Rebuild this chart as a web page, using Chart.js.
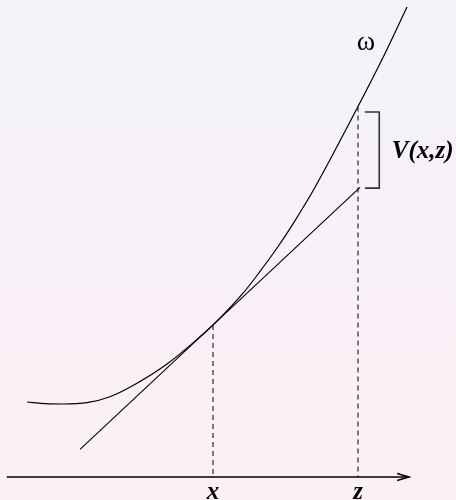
<!DOCTYPE html>
<html>
<head>
<meta charset="utf-8">
<script src="https://cdn.jsdelivr.net/npm/chart.js@4"></script>
<style>
  html, body { margin: 0; padding: 0; }
  #wrap { width: 456px; height: 500px; background: linear-gradient(to bottom, #f4f3fa 0%, #f8f1f8 50%, #fcf0f5 100%); }
  canvas { display: block; }
  .pre { font-family: "Liberation Serif"; position: absolute; left: -999px; }
</style>
</head>
<body>
<span class="pre" style="font-weight:bold;font-style:italic">V(x,z)</span>
<span class="pre">ω</span>
<div id="wrap"><canvas id="c" width="456" height="500"></canvas></div>
<script>
// ω curve samples
const curveX = [-0.131, 0.366, 0.862, 1.524, 2.159, 2.793, 3.731, 4.641, 5.0, 5.828, 6.297, 6.766, 7.207, 7.759, 9.0, 9.690, 10.352];
const curveY = [2.069, 2.025, 2.014, 2.050, 2.215, 2.524, 3.117, 3.868, 4.193, 5.070, 5.672, 6.317, 6.985, 7.895, 10.221, 11.572, 12.966];
// tangent line at x
const tangentX = [1.331, 9.055];
const tangentY = [0.764, 7.992];
// marked positions on the axis
const markX = [5.0, 9.0];
const markTop = [4.193, 10.221];
const tickLabels = ['x', 'z'];
// axis extent
const axisX = [-0.69, 10.41];
// bracket for V(x,z)
const bracketLeft = 9.19, bracketRight = 9.586;
const bracketTop = 10.07, bracketBottom = 7.97;
const bracketLabel = 'V(x,z)';
const curveLabel = 'ω';

const toPts = (xs, ys) => xs.map((x, i) => ({x, y: ys[i]}));

const base = { showLine: true, pointRadius: 0, borderColor: '#000', fill: false };
const datasets = [
  Object.assign({}, base, { data: toPts(curveX, curveY), borderWidth: 1.2, cubicInterpolationMode: 'monotone' }),
  Object.assign({}, base, { data: toPts(tangentX, tangentY), borderWidth: 1.1 }),
  Object.assign({}, base, { data: toPts(axisX, [0, 0]), borderWidth: 1.6 }),
  Object.assign({}, base, { data: [{x: 10.08, y: 0.097}, {x: axisX[1], y: 0}, {x: 10.08, y: -0.097}], borderWidth: 1.4 }),
  Object.assign({}, base, { data: [{x: bracketLeft, y: bracketTop}, {x: bracketRight, y: bracketTop}, {x: bracketRight, y: bracketBottom}, {x: bracketLeft, y: bracketBottom}], borderWidth: 1.6, borderColor: '#333' })
];
markX.forEach((mx, i) => {
  datasets.push(Object.assign({}, base, { data: [{x: mx, y: markTop[i]}, {x: mx, y: 0}], borderWidth: 1, borderDash: [5, 4], borderColor: '#000' }));
});

const SERIF = '"Liberation Serif", "Times New Roman", Times, serif';
const labelPlugin = {
  id: 'labels',
  afterDatasetsDraw(chart) {
    const ctx = chart.ctx, xs = chart.scales.x, ys = chart.scales.y;
    ctx.save();
    ctx.fillStyle = '#000';
    ctx.textBaseline = 'alphabetic';
    ctx.font = 'italic bold 25px ' + SERIF;
    ctx.textAlign = 'center';
    markX.forEach((mx, i) => {
      ctx.fillText(tickLabels[i], xs.getPixelForValue(mx), ys.getPixelForValue(-0.6));
    });
    ctx.textAlign = 'left';
    ctx.fillText(bracketLabel, xs.getPixelForValue(9.93), ys.getPixelForValue(8.8));
    ctx.font = 'normal 28px ' + SERIF;
    ctx.textAlign = 'center';
    ctx.fillText(curveLabel, xs.getPixelForValue(9.22), ys.getPixelForValue(11.78));
    ctx.restore();
  }
};

function draw() {
  new Chart(document.getElementById('c'), {
    type: 'scatter',
    data: { datasets },
    options: {
      responsive: false,
      animation: false,
      layout: { padding: 0 },
      plugins: { legend: { display: false }, tooltip: { enabled: false } },
      scales: {
        x: { type: 'linear', display: false, min: -0.876, max: 11.703 },
        y: { type: 'linear', display: false, min: -0.634, max: 13.159 }
      }
    },
    plugins: [labelPlugin]
  });
}
Promise.all([
  document.fonts.load('italic bold 25px "Liberation Serif"'),
  document.fonts.load('28px "Liberation Serif"')
]).then(draw, draw);
</script>
</body>
</html>
